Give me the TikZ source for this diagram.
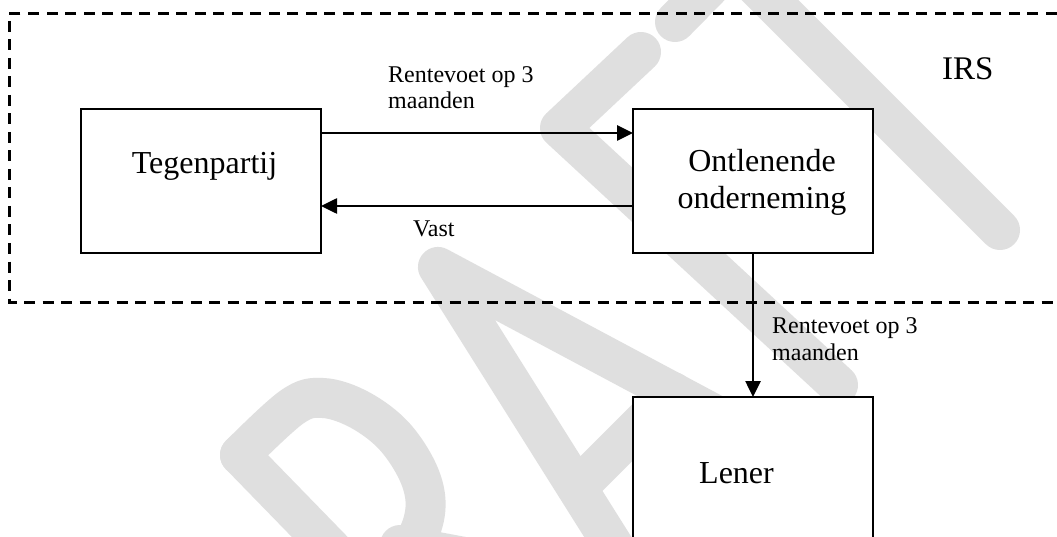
\documentclass[tikz,border=0pt]{standalone}
\usepackage{fontspec}
\setmainfont{Liberation Serif}
\usetikzlibrary{arrows.meta}
\definecolor{wmgray}{RGB}{223,223,223}
\tikzset{
  wm/.style={draw=wmgray, line width=40pt, line cap=round, line join=round},
  box/.style={draw=black, fill=white, line width=2.6pt, minimum width=240pt, inner sep=0pt, outer sep=0pt},
  arr/.style={line width=2.6pt, -{Triangle[length=16pt,width=15pt]}},
  frame/.style={line width=3pt, dash pattern=on 11pt off 7.5pt},
  big/.style={font=\fontsize{32}{37}\selectfont, inner sep=0pt},
  small/.style={font=\fontsize{24}{26.5}\selectfont, inner sep=0pt, align=left},
}
\begin{document}
\begin{tikzpicture}[x=1pt,y=-1pt]
\useasboundingbox (0,0) rectangle (1057,537);
\clip (0,0) rectangle (1057,537);
\fill[white] (0,0) rectangle (1057,537);
% watermark "DRAFT"
\draw[wm] (240,455) -- (420,640);
\draw[wm] plot[smooth, tension=0.6] coordinates {(240,455) (292,407) (323,398) (360,410) (395,437) (420,477) (425,513) (410,548) (375,575)};
\draw[wm] (400,545) -- (560,575);
\draw[wm] (660,620) -- (438,267) -- (781,450);
\draw[wm] (577.8,487.2) -- (672.9,392);
\draw[wm] (641,52) -- (560,128) -- (838,385);
\draw[wm] (690,242) -- (750,180);
\draw[wm] (1000,230) -- (734,-36);
\draw[wm] (675,22) -- (800,-105);
% IRS frame
\draw[frame] (1075,14) -- (9,14) -- (9,302) -- (1075,302);
% boxes
\node[box, minimum height=144pt] (teg) at (201,181) {};
\node[box, minimum height=144pt] (ont) at (753,181) {};
\node[box, minimum height=160pt] (len) at (753,477) {};
\node[big, anchor=base] (tegt) at (204.5,174) {Tegenpartij};
\node[big, anchor=base, align=center] (ontt) at (762,209) {Ontlenende\\onderneming};
\node[big, anchor=base] (lent) at (736.5,483) {Lener};
\node[font=\fontsize{33}{38}\selectfont, inner sep=0pt, anchor=base west] (irs) at (942,80) {IRS};
% arrows
\draw[arr] ([yshift=-24pt]teg.north east) -- ([yshift=-24pt]ont.north west);
\draw[arr] ([yshift=-97pt]ont.north west) -- ([yshift=-97pt]teg.north east);
\draw[arr] (ont.south) -- (len.north);
% labels
\node[small, anchor=base west] (l1) at (388,109) {Rentevoet op 3\\maanden};
\node[small, anchor=base west] (l2) at (413,237) {Vast};
\node[small, anchor=base west] (l3) at (772,360) {Rentevoet op 3\\maanden};
\end{tikzpicture}
\end{document}
